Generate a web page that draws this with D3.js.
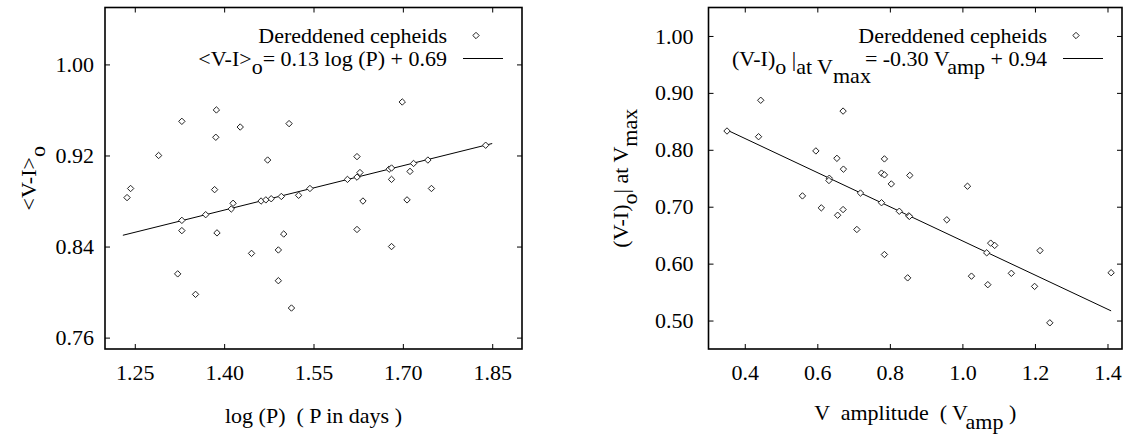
<!DOCTYPE html>
<html>
<head>
<meta charset="utf-8">
<script src="https://cdn.jsdelivr.net/npm/d3@7"></script>
<style>
  body { margin: 0; background: #fff; }
</style>
</head>
<body>
<svg id="chart" width="1125" height="436"></svg>
<script>
// left panel: mean dereddened colour vs log period
const logP = [1.237, 1.243, 1.290, 1.329, 1.329, 1.329, 1.322, 1.352, 1.369, 1.387,
  1.386, 1.384, 1.388, 1.427, 1.412, 1.415, 1.446, 1.473, 1.462, 1.470,
  1.479, 1.496, 1.491, 1.491, 1.500, 1.509, 1.513, 1.525, 1.544, 1.607,
  1.623, 1.623, 1.628, 1.633, 1.623, 1.677, 1.681, 1.681, 1.681, 1.699,
  1.712, 1.718, 1.707, 1.742, 1.748, 1.839];
const meanVI = [0.883, 0.891, 0.920, 0.950, 0.863, 0.854, 0.816, 0.798, 0.868, 0.960,
  0.936, 0.890, 0.852, 0.945, 0.873, 0.878, 0.834, 0.916, 0.880, 0.881,
  0.882, 0.884, 0.837, 0.810, 0.851, 0.948, 0.786, 0.885, 0.891, 0.899,
  0.919, 0.901, 0.905, 0.880, 0.855, 0.908, 0.909, 0.899, 0.840, 0.967,
  0.906, 0.913, 0.881, 0.916, 0.891, 0.929];

// right panel: colour at maximum light vs V amplitude
const vAmp = [0.351, 0.444, 0.438, 0.596, 0.559, 0.611, 0.654, 0.633, 0.632, 0.656,
  0.672, 0.671, 0.671, 0.709, 0.719, 0.777, 0.785, 0.785, 0.777, 0.785,
  0.804, 0.826, 0.852, 0.854, 0.855, 0.849, 0.957, 1.014, 1.025, 1.067,
  1.070, 1.078, 1.089, 1.135, 1.199, 1.214, 1.241, 1.410];
const maxVI = [0.833, 0.887, 0.823, 0.798, 0.719, 0.698, 0.785, 0.750, 0.746, 0.685,
  0.766, 0.868, 0.695, 0.660, 0.724, 0.759, 0.756, 0.784, 0.707, 0.616,
  0.740, 0.692, 0.684, 0.683, 0.755, 0.575, 0.677, 0.736, 0.578, 0.619,
  0.563, 0.636, 0.632, 0.583, 0.560, 0.623, 0.496, 0.584];

// fitted relations
const leftFit = {slope: 0.13, intercept: 0.69, range: [1.23, 1.85]};
const rightFit = {slope: -0.30, intercept: 0.94, range: [0.35, 1.41]};

// ticks
const leftXTicks = [1.25, 1.40, 1.55, 1.70, 1.85];
const leftYTicks = [0.76, 0.84, 0.92, 1.00];
const rightXTicks = [0.4, 0.6, 0.8, 1.0, 1.2, 1.4];
const rightYTicks = [0.50, 0.60, 0.70, 0.80, 0.90, 1.00];

const pointLabel = 'Dereddened cepheids';
const leftFitLabel = [{t: '<V-I>'}, {t: 'o', sub: 1}, {t: '= 0.13 log (P) + 0.69'}];
const rightFitLabel = [{t: '(V-I)'}, {t: 'o', sub: 1}, {t: ' |'}, {t: 'at V', sub: 1},
  {t: 'max', sub: 2}, {t: '= -0.30 V', dx: -6}, {t: 'amp', sub: 1}, {t: ' + 0.94'}];
const leftYTitle = [{t: '<V-I>'}, {t: 'o', sub: 1}];
const rightYTitle = [{t: '(V-I)'}, {t: 'o', sub: 1}, {t: '| at V'}, {t: 'max', sub: 1}];
const leftXTitle = [{t: 'log (P)  ( P in days )'}];
const rightXTitle = [{t: 'V  amplitude  ( V'}, {t: 'amp', sub: 1}, {t: ' )'}];

const fs = 22;
const font = '"Liberation Serif", "Times New Roman", Times, "DejaVu Serif", serif';
const svg = d3.select('#chart');

// text with gnuplot-like subscripts
function richText(sel, parts) {
  let cur = 0;
  parts.forEach(p => {
    const shift = (p.sub || 0) * fs * 0.4;
    sel.append('tspan')
      .attr('dy', shift - cur)
      .attr('dx', p.dx || 0)
      .text(p.t);
    cur = shift;
  });
}

function addText(parent) {
  return parent.append('text')
    .attr('font-family', font)
    .attr('font-size', fs)
    .attr('fill', '#000')
    .attr('xml:space', 'preserve')
    .style('white-space', 'pre');
}

const diamond = r => `M0,${-r}L${r},0L0,${r}L${-r},0Z`;

function drawPanel(cfg) {
  const x = d3.scaleLinear().domain(cfg.xDomain).range([0, cfg.w]);
  const y = d3.scaleLinear().domain(cfg.yDomain).range([cfg.h, 0]);

  const g = svg.append('g').attr('transform', `translate(${cfg.x0},${cfg.y0})`);

  // axes with inward ticks, mirrored on top / right
  const xb = g.append('g').attr('transform', `translate(0,${cfg.h})`)
    .call(d3.axisBottom(x).tickValues(cfg.xTicks).tickFormat(d3.format(cfg.xFmt)).tickSize(-5));
  const xt = g.append('g')
    .call(d3.axisTop(x).tickValues(cfg.xTicks).tickFormat('').tickSize(-5));
  const yl = g.append('g')
    .call(d3.axisLeft(y).tickValues(cfg.yTicks).tickFormat(d3.format('.2f')).tickSize(-5).tickPadding(cfg.yPad));
  const yr = g.append('g').attr('transform', `translate(${cfg.w},0)`)
    .call(d3.axisRight(y).tickValues(cfg.yTicks).tickFormat('').tickSize(-5));

  [xb, xt, yl, yr].forEach(a => {
    a.attr('font-family', font).attr('font-size', fs);
    a.select('.domain').remove();
    a.selectAll('line').attr('stroke', '#000').attr('stroke-width', 1);
    a.selectAll('text').attr('fill', '#000');
  });
  xb.selectAll('text').attr('y', 31).attr('dy', 0);

  g.append('rect')
    .attr('width', cfg.w).attr('height', cfg.h)
    .attr('fill', 'none').attr('stroke', '#000').attr('stroke-width', 1.6);

  // fit line
  g.append('line')
    .attr('x1', x(cfg.fit.range[0]))
    .attr('y1', y(cfg.fit.slope * cfg.fit.range[0] + cfg.fit.intercept))
    .attr('x2', x(cfg.fit.range[1]))
    .attr('y2', y(cfg.fit.slope * cfg.fit.range[1] + cfg.fit.intercept))
    .attr('stroke', '#000').attr('stroke-width', 1);

  // points
  g.selectAll('.pt')
    .data(cfg.xs.map((v, i) => [v, cfg.ys[i]]))
    .join('path')
    .attr('class', 'pt')
    .attr('d', diamond(3.2))
    .attr('transform', d => `translate(${x(d[0])},${y(d[1])})`)
    .attr('fill', '#fff').attr('stroke', '#222').attr('stroke-width', 1);

  // legend
  const lx = cfg.w - 75;
  addText(g).attr('x', lx).attr('y', 35).attr('text-anchor', 'end').text(pointLabel);
  g.append('path').attr('d', diamond(3.2))
    .attr('transform', `translate(${cfg.w - 46},28)`)
    .attr('fill', '#fff').attr('stroke', '#222');
  richText(addText(g).attr('x', lx).attr('y', 58).attr('text-anchor', 'end'), cfg.fitLabel);
  g.append('line')
    .attr('x1', cfg.w - 59).attr('x2', cfg.w - 19)
    .attr('y1', 51).attr('y2', 51)
    .attr('stroke', '#000').attr('stroke-width', 1);

  // axis titles
  richText(addText(svg)
    .attr('transform', `translate(${cfg.yTitleX},${cfg.y0 + cfg.h / 2}) rotate(-90)`)
    .attr('text-anchor', 'middle'), cfg.yTitle);
  richText(addText(svg)
    .attr('x', cfg.x0 + cfg.w / 2).attr('y', cfg.xTitleY)
    .attr('text-anchor', 'middle'), cfg.xTitle);
}

drawPanel({
  x0: 105, y0: 7.5, w: 417, h: 341.5,
  xDomain: [1.2, 1.9], yDomain: [0.75, 1.05],
  xTicks: leftXTicks, yTicks: leftYTicks, xFmt: '.2f', yPad: 11,
  xs: logP, ys: meanVI, fit: leftFit, fitLabel: leftFitLabel,
  yTitle: leftYTitle, yTitleX: 36, xTitle: leftXTitle, xTitleY: 423
});

drawPanel({
  x0: 708.5, y0: 7.5, w: 413.5, h: 341.5,
  xDomain: [0.3, 1.44], yDomain: [0.45, 1.05],
  xTicks: rightXTicks, yTicks: rightYTicks, xFmt: '.1f', yPad: 15,
  xs: vAmp, ys: maxVI, fit: rightFit, fitLabel: rightFitLabel,
  yTitle: rightYTitle, yTitleX: 628, xTitle: rightXTitle, xTitleY: 420
});
</script>
</body>
</html>
